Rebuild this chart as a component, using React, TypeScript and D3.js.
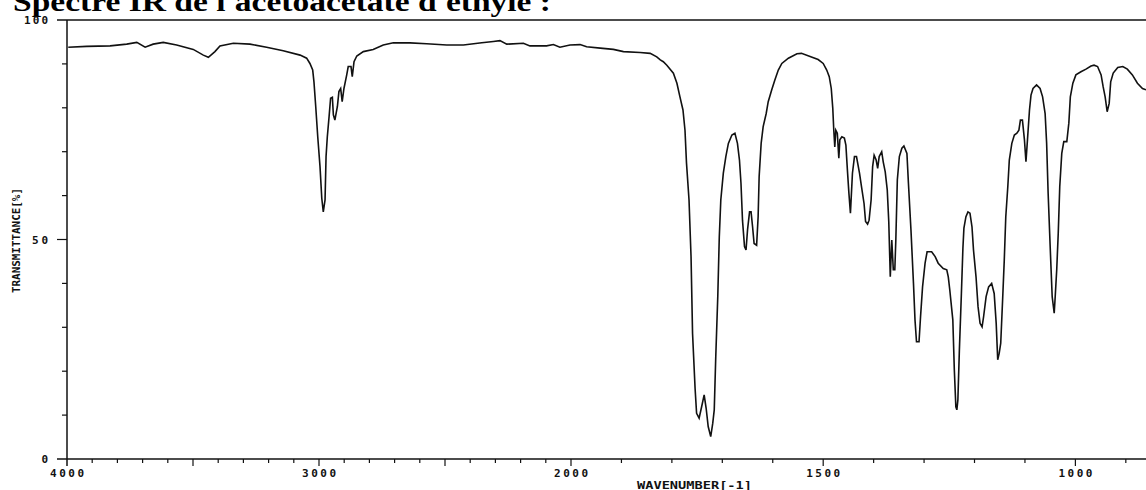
import React, { useEffect, useRef } from 'react'
import * as d3 from 'd3'

// spectre IR (cm-1 / %T)
const wavenumbers = [
  3995, 3922, 3829, 3763, 3723, 3690, 3658, 3618, 3565, 3499, 3459, 3439, 3413, 3393, 3340, 3274,
  3208, 3142, 3075, 3049, 3036, 3025, 3020, 3013, 3005, 2996, 2989, 2983, 2976, 2972, 2967, 2960,
  2954, 2947, 2943, 2937, 2927, 2921, 2914, 2908, 2901, 2890, 2884, 2873, 2868, 2861, 2850, 2824,
  2785, 2745, 2705, 2639, 2573, 2493, 2427, 2354, 2308, 2282, 2255, 2189, 2163, 2097, 2070, 2044,
  2004, 1982, 1969, 1942, 1916, 1896, 1863, 1843, 1830, 1823, 1817, 1810, 1797, 1790, 1784, 1778,
  1774, 1771, 1766, 1762, 1759, 1754, 1751, 1746, 1741, 1736, 1732, 1728, 1723, 1719, 1716, 1713,
  1709, 1706, 1703, 1698, 1693, 1688, 1681, 1675, 1670, 1666, 1663, 1660, 1656, 1653, 1650, 1646,
  1643, 1640, 1637, 1632, 1629, 1627, 1623, 1619, 1613, 1609, 1602, 1596, 1589, 1582, 1569, 1552,
  1543, 1526, 1510, 1500, 1493, 1488, 1484, 1481, 1479, 1477, 1475, 1472, 1469, 1467, 1463, 1458,
  1455, 1452, 1449, 1446, 1442, 1438, 1434, 1428, 1424, 1419, 1416, 1412, 1409, 1405, 1402, 1399,
  1395, 1392, 1389, 1384, 1381, 1377, 1373, 1370, 1367, 1364, 1361, 1358, 1356, 1353, 1349, 1344,
  1340, 1334, 1331, 1326, 1321, 1318, 1315, 1310, 1307, 1303, 1298, 1294, 1285, 1278, 1272, 1262,
  1255, 1252, 1249, 1243, 1240, 1237, 1235, 1233, 1230, 1226, 1223, 1221, 1217, 1213, 1209, 1205,
  1202, 1197, 1193, 1189, 1185, 1182, 1177, 1172, 1166, 1161, 1157, 1154, 1151, 1148, 1144, 1141,
  1138, 1134, 1131, 1126, 1121, 1116, 1112, 1109, 1105, 1101, 1098, 1095, 1091, 1088, 1084, 1077,
  1070, 1065, 1060, 1057, 1054, 1050, 1046, 1042, 1040, 1037, 1034, 1031, 1027, 1023, 1017, 1013,
  1010, 1005, 999, 989, 979, 969, 963, 956, 949, 945, 941, 937, 933, 930, 925, 916,
  906, 897, 887, 877, 867, 860
]
const transmittance = [
  93.8, 94.0, 94.1, 94.5, 94.9, 93.8, 94.5, 94.9, 94.3, 93.3, 92.0, 91.5, 92.8, 94.1, 94.7, 94.5,
  93.8, 93.0, 92.0, 91.3, 90.1, 88.6, 85.9, 80.3, 73.4, 66.6, 59.4, 56.3, 59.0, 68.9, 73.4, 78.0,
  82.2, 82.4, 78.4, 77.2, 80.3, 83.7, 84.4, 81.4, 84.4, 87.5, 89.4, 89.4, 87.1, 90.5, 91.8, 92.8,
  93.3, 94.3, 94.8, 94.8, 94.6, 94.3, 94.3, 94.8, 95.1, 95.3, 94.5, 94.7, 94.1, 94.1, 94.4, 93.8,
  94.3, 94.4, 93.9, 93.6, 93.3, 92.8, 92.6, 92.4, 91.6, 90.9, 90.5, 89.7, 87.9, 85.6, 82.5, 79.5,
  74.9, 67.4, 59.0, 46.1, 28.6, 16.1, 10.4, 9.3, 11.9, 14.6, 11.5, 7.4, 5.1, 8.1, 11.2, 23.3,
  37.0, 50.6, 59.0, 65.1, 68.9, 71.9, 73.8, 74.2, 71.9, 68.1, 62.8, 54.4, 48.4, 47.6, 52.2, 56.3,
  56.3, 52.9, 49.1, 48.7, 55.2, 64.3, 71.9, 75.7, 78.7, 81.4, 84.1, 86.3, 88.6, 90.1, 91.3, 92.3,
  92.4, 91.7, 91.0, 90.1, 88.6, 87.1, 84.4, 79.9, 74.9, 71.1, 74.9, 74.2, 68.5, 72.7, 73.4, 73.1,
  71.5, 65.8, 60.5, 56.0, 65.1, 68.9, 68.9, 65.1, 62.0, 58.2, 54.1, 53.5, 54.4, 59.0, 66.6, 69.2,
  68.1, 66.2, 68.9, 70.0, 67.7, 65.4, 61.3, 54.1, 41.5, 49.9, 43.1, 43.1, 49.9, 63.6, 68.9, 70.8,
  71.3, 69.6, 62.8, 52.2, 40.0, 31.7, 26.7, 26.7, 32.4, 39.2, 44.6, 47.2, 47.2, 46.1, 44.6, 43.4,
  43.1, 41.5, 38.5, 31.7, 20.3, 11.9, 11.2, 13.4, 24.8, 37.7, 48.0, 52.6, 55.2, 56.3, 56.0, 52.9,
  47.6, 41.5, 34.7, 30.9, 30.1, 32.4, 37.0, 39.2, 40.0, 37.7, 30.9, 22.6, 24.1, 26.4, 37.0, 45.3,
  55.2, 62.0, 68.1, 71.9, 73.8, 74.2, 74.9, 77.2, 77.2, 72.7, 67.7, 72.7, 79.5, 82.9, 84.4, 85.2,
  84.4, 82.5, 78.7, 71.9, 60.5, 48.4, 37.0, 33.2, 37.0, 43.1, 51.4, 62.0, 69.6, 72.3, 72.3, 76.5,
  82.5, 85.6, 87.5, 88.2, 88.8, 89.5, 89.7, 89.4, 87.5, 84.8, 82.5, 79.1, 81.0, 85.9, 87.9, 89.2,
  89.4, 88.8, 87.5, 85.6, 84.4, 84.1
]
const xTickLabels = [4000, 3000, 2000, 1500, 1000]
const yTickLabels = [0, 50, 100]

const W = 1146, H = 490

export default function App() {
  const ref = useRef<SVGSVGElement>(null)

  useEffect(() => {
    const svg = d3.select(ref.current)
    svg.selectAll('*').remove()

    // echelle double en dessous de 2000 cm-1
    const x = d3.scaleLinear().domain([4000, 2000, 860]).range([67, 571, 1146])
    const y = d3.scaleLinear().domain([0, 100]).range([459, 20])
    const ink = '#111'
    const font = '"DejaVu Sans Mono", monospace'

    svg.append('text')
      .attr('x', 13).attr('y', 11)
      .attr('textLength', 538).attr('lengthAdjust', 'spacingAndGlyphs')
      .style('font-family', '"Liberation Serif", "Times New Roman", serif')
      .style('font-weight', 'bold').style('font-size', '27px')
      .text("Spectre IR de l'acétoacétate d'éthyle :")

    // cadre
    svg.append('line').attr('x1', 57).attr('x2', W).attr('y1', y(100)).attr('y2', y(100))
      .style('stroke', ink).style('stroke-width', 1.5)
    svg.append('line').attr('x1', 57).attr('x2', W).attr('y1', y(0)).attr('y2', y(0))
      .style('stroke', ink).style('stroke-width', 1.5)
    svg.append('line').attr('x1', x(4000)).attr('x2', x(4000)).attr('y1', y(100)).attr('y2', y(0) + 7)
      .style('stroke', ink).style('stroke-width', 1.5)

    // graduations Y
    svg.selectAll('.ytick').data(d3.range(10, 100, 10)).enter().append('line')
      .attr('x1', (d) => (d % 50 === 0 ? 57 : 62)).attr('x2', x(4000))
      .attr('y1', (d) => y(d)).attr('y2', (d) => y(d))
      .style('stroke', ink).style('stroke-width', 1.2)
    svg.selectAll('.ylab').data(yTickLabels).enter().append('text')
      .attr('x', 48).attr('y', (d) => y(d) + 4)
      .attr('text-anchor', 'end')
      .attr('textLength', (d) => String(d).length * 8)
      .attr('lengthAdjust', 'spacing')
      .style('font-family', font).style('font-weight', 'bold').style('font-size', '11px').style('fill', ink)
      .text((d) => String(d))

    // graduations X
    svg.selectAll('.xtick').data(d3.range(900, 4000, 100)).enter().append('line')
      .attr('x1', (d) => x(d)).attr('x2', (d) => x(d))
      .attr('y1', y(0)).attr('y2', (d) => y(0) + (d % 500 === 0 ? 7 : 4))
      .style('stroke', ink).style('stroke-width', 1.2)
    svg.selectAll('.xlab').data(xTickLabels).enter().append('text')
      .attr('x', (d) => x(d)).attr('y', 477)
      .attr('text-anchor', 'middle')
      .attr('textLength', 34).attr('lengthAdjust', 'spacing')
      .style('font-family', font).style('font-weight', 'bold').style('font-size', '11px').style('fill', ink)
      .text((d) => String(d))

    svg.append('text')
      .attr('x', 637).attr('y', 489)
      .attr('textLength', 115).attr('lengthAdjust', 'spacingAndGlyphs')
      .style('font-family', font).style('font-weight', 'bold').style('font-size', '11px').style('fill', ink)
      .text('WAVENUMBER[-1]')
    svg.append('text')
      .attr('transform', 'translate(20,293) rotate(-90)')
      .attr('textLength', 105).attr('lengthAdjust', 'spacingAndGlyphs')
      .style('font-family', font).style('font-weight', 'bold').style('font-size', '11px').style('fill', ink)
      .text('TRANSMITTANCE[%]')

    const line = d3.line<number>()
      .x((d, i) => x(wavenumbers[i]))
      .y((d) => y(d))
    svg.append('path').datum(transmittance)
      .attr('d', line)
      .style('fill', 'none').style('stroke', ink).style('stroke-width', 1.6)
      .style('stroke-linejoin', 'miter')
  }, [])

  return (
    <svg ref={ref} width={W} height={H}
      style={{ position: 'absolute', left: 0, top: 0, background: '#fff' }} />
  )
}
